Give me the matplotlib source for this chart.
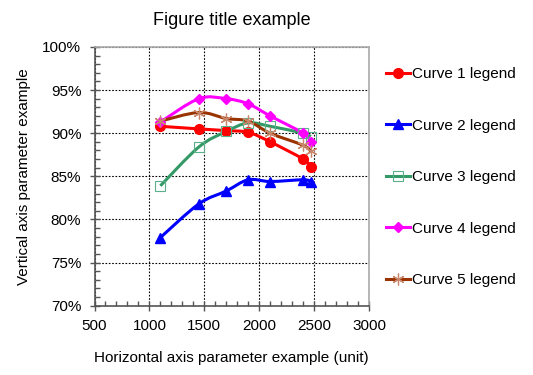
import numpy as np
import matplotlib.pyplot as plt
from matplotlib.path import Path
from matplotlib.patches import PathPatch
from matplotlib.lines import Line2D
from matplotlib.ticker import MultipleLocator, PercentFormatter

plt.rcParams['font.family'] = ['Liberation Sans', 'DejaVu Sans']

x_vals = [1100, 1450, 1700, 1900, 2100, 2400, 2470]
curve1 = [90.8, 90.5, 90.3, 90.1, 89.0, 87.0, 86.1]
curve2 = [77.9, 81.8, 83.3, 84.6, 84.4, 84.6, 84.4]
curve3 = [83.9, 88.4, 90.2, 91.2, 90.8, 90.0, 89.6]
curve4 = [91.3, 94.0, 94.0, 93.4, 92.0, 90.0, 89.0]
curve5 = [91.4, 92.4, 91.7, 91.4, 90.0, 88.6, 87.9]

labels = ['Curve 1 legend', 'Curve 2 legend', 'Curve 3 legend',
          'Curve 4 legend', 'Curve 5 legend']
series = [curve1, curve2, curve3, curve4, curve5]

styles = [
    dict(color='#FF0000', marker='o', ms=7, mfc='#FF0000', mec='#FF0000', mew=1),
    dict(color='#0000FF', marker='^', ms=7, mfc='#0000FF', mec='#0000FF', mew=1),
    dict(color='#339966', marker='s', ms=6.5, mfc='none', mec='#5BB08A', mew=0.8),
    dict(color='#FF00FF', marker='D', ms=5, mfc='#FF00FF', mec='#FF00FF', mew=1),
    dict(color='#993300', marker=(6, 2, 0), ms=8.5, mfc='none', mec='#C8866A', mew=0.9),
]


def smooth_path(xs, ys):
    # Excel-style smoothed line: Catmull-Rom segments as cubic Bezier curves
    pts = np.column_stack([xs, ys]).astype(float)
    n = len(pts)
    verts = [pts[0]]
    codes = [Path.MOVETO]
    for i in range(n - 1):
        p0 = pts[max(i - 1, 0)]
        p1 = pts[i]
        p2 = pts[i + 1]
        p3 = pts[min(i + 2, n - 1)]
        c1 = p1 + (p2 - p0) / 6.0
        c2 = p2 - (p3 - p1) / 6.0
        verts += [c1, c2, p2]
        codes += [Path.CURVE4] * 3
    return Path(verts, codes)


fig = plt.figure(figsize=(5.33, 3.75), dpi=100)
ax = fig.add_axes([0.1773, 0.1848, 0.515, 0.69])

handles = []
for ys, st, lab in zip(series, styles, labels):
    patch = PathPatch(smooth_path(x_vals, ys), facecolor='none',
                      edgecolor=st['color'], lw=2.2, zorder=3)
    ax.add_patch(patch)
    ax.plot(x_vals, ys, ls='none', marker=st['marker'], ms=st['ms'],
            mfc=st['mfc'], mec=st['mec'], mew=st['mew'], zorder=4)
    handles.append(Line2D([], [], color=st['color'], lw=2.2, marker=st['marker'],
                          ms=st['ms'], mfc=st['mfc'], mec=st['mec'], mew=st['mew']))

ax.set_xlim(500, 3000)
ax.set_ylim(70, 100)
ax.xaxis.set_major_locator(MultipleLocator(500))
ax.xaxis.set_minor_locator(MultipleLocator(100))
ax.yaxis.set_major_locator(MultipleLocator(5))
ax.yaxis.set_minor_locator(MultipleLocator(1))
ax.yaxis.set_major_formatter(PercentFormatter(decimals=0))

ax.grid(True, which='major', color='black', linestyle=(0, (1.5, 1.5)), lw=0.8)
ax.tick_params(which='major', direction='inout', length=7, width=1, color='#555555',
               labelsize=11, pad=6)
ax.tick_params(which='minor', direction='in', length=3.5, width=1, color='#555555')

for side in ['left', 'bottom']:
    ax.spines[side].set_color('#555555')
    ax.spines[side].set_linewidth(1.2)
for side in ['top', 'right']:
    ax.spines[side].set_color('#AAAAAA')
    ax.spines[side].set_linewidth(1.2)

ax.set_title('Figure title example', fontsize=13, pad=16)
ax.set_xlabel('Horizontal axis parameter example (unit)', fontsize=11, labelpad=13)
ax.set_ylabel('Vertical axis parameter example', fontsize=11, labelpad=8)

fig.legend(handles, labels, loc='upper left', bbox_to_anchor=(0.712, 0.837),
           frameon=False, fontsize=11, handlelength=1.6, handletextpad=0.1,
           labelspacing=2.45, borderaxespad=0)

fig.savefig('out.png', dpi=100)
